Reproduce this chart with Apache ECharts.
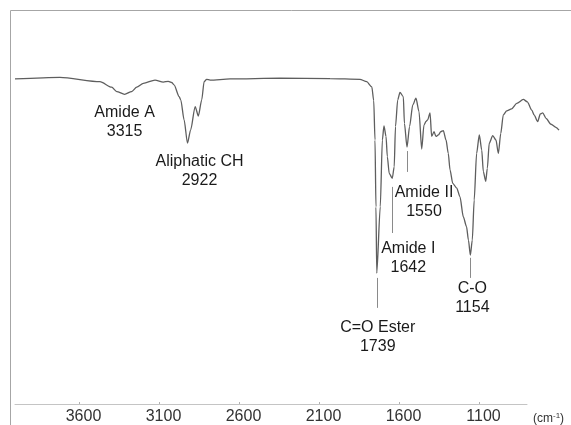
<!DOCTYPE html>
<html>
<head>
<meta charset="utf-8">
<script src="https://cdn.jsdelivr.net/npm/echarts@6/dist/echarts.min.js"></script>
<style>
  html, body { margin: 0; padding: 0; background: #fff; }
  #chart { width: 571px; height: 425px; }
</style>
</head>
<body>
<div id="chart"></div>
<script>
// wavenumber (cm-1) and transmittance
const wavenumbers = [
  4000, 3719, 3469, 3396, 3364, 3315, 3271, 3239, 3198, 3125, 3073, 3042, 3021, 3006,
  2974, 2964, 2943, 2922, 2902, 2874, 2854, 2833, 2818, 2802, 2781, 2656, 2344, 2031,
  1844, 1802, 1770, 1758, 1750, 1744, 1739, 1717, 1704, 1694, 1681, 1673, 1661, 1642,
  1630, 1622, 1608, 1594, 1573, 1566, 1550, 1534, 1514, 1494, 1475, 1458, 1444, 1431,
  1421, 1406, 1396, 1381, 1369, 1354, 1339, 1323, 1306, 1292, 1281, 1264, 1239, 1219,
  1198, 1178, 1166, 1154, 1142, 1130, 1115, 1098, 1083, 1073, 1058, 1048, 1036, 1014,
  994, 979, 964, 948, 927, 896, 864, 823, 798, 770, 756, 733, 717, 702, 681, 650, 619, 600
];
const transmittance = [
  82.5, 82.9, 81.8, 80.4, 79.3, 78.6, 79.3, 80.4, 81.4, 82.2, 81.7, 81.9, 81.6, 81.0,
  78.0, 77.2, 72.1, 66.2, 69.6, 75.5, 73.1, 77.2, 81.8, 82.4, 82.2, 82.5, 82.7, 82.6,
  82.4, 81.8, 80.5, 77.0, 67.0, 50.0, 33.2, 50.1, 67.0, 70.6, 67.9, 62.8, 58.5, 57.3,
  60.2, 70.4, 77.2, 79.1, 78.0, 71.2, 65.2, 70.4, 75.9, 77.6, 74.2, 64.7, 70.8, 71.7,
  72.1, 73.9, 67.9, 69.1, 67.9, 68.3, 69.1, 69.4, 67.0, 63.6, 59.4, 56.0, 54.8, 52.6,
  47.5, 45.0, 41.6, 37.8, 41.6, 51.8, 63.6, 68.3, 64.5, 59.0, 56.5, 59.8, 66.2, 68.1,
  67.0, 63.6, 68.7, 73.4, 74.4, 74.9, 76.3, 77.3, 76.7, 74.6, 73.4, 71.7, 73.6, 73.9,
  72.5, 71.0, 70.2, 69.5
];

const tickValues = [3600, 3100, 2600, 2100, 1600, 1100];

// peak annotations
const peakNames = ['Amide A', 'Aliphatic CH', 'C=O Ester', 'Amide I', 'Amide II', 'C-O'];
const peakWavenumbers = [3315, 2922, 1739, 1642, 1550, 1154];

// where each label / leader line sits (label y, x shift in px, leader line y range or null)
const peakLayout = [
  { labelY: 71.5, dx: 0, line: null },
  { labelY: 59.1, dx: 12, line: null },
  { labelY: 17.0, dx: 1, line: [32.0, 24.4] },
  { labelY: 37.0, dx: 16, line: [55.1, 43.4] },
  { labelY: 51.2, dx: 17, line: [64.2, 58.9] },
  { labelY: 26.8, dx: 2, line: [37.1, 32.0] }
];

const spectrum = wavenumbers.map((w, i) => [w, transmittance[i]]);

const markPoints = peakNames.map((name, i) => ({
  name: name,
  value: peakWavenumbers[i],
  coord: [peakWavenumbers[i], peakLayout[i].labelY],
  label: { offset: [peakLayout[i].dx, 0] }
}));

const markLines = [];
peakLayout.forEach((p, i) => {
  if (p.line) {
    markLines.push([
      { coord: [peakWavenumbers[i], p.line[0]] },
      { coord: [peakWavenumbers[i], p.line[1]] }
    ]);
  }
});

const chart = echarts.init(document.getElementById('chart'));
chart.setOption({
  animation: false,
  backgroundColor: '#fff',
  textStyle: { fontFamily: '"Liberation Sans", Arial, sans-serif' },
  // grid 0 holds the spectrum (600-4000), grid 1 the visible axis (800-4000)
  grid: [
    { left: 15, width: 544, top: 10, bottom: 21, outerBoundsMode: 'none' },
    { left: 15, width: 512, top: 10, bottom: 21, outerBoundsMode: 'none' }
  ],
  graphic: [{
    type: 'rect',
    shape: { x: 10.5, y: 10.5, width: 600, height: 500 },
    style: { fill: 'none', stroke: '#a6a6a6', lineWidth: 1 },
    silent: true
  }],
  xAxis: [{
    type: 'value',
    gridIndex: 0,
    inverse: true,
    min: 600,
    max: 4000,
    show: false
  }, {
    type: 'value',
    gridIndex: 1,
    inverse: true,
    min: 800,
    max: 4000,
    splitLine: { show: false },
    axisLine: { lineStyle: { color: '#c4c4c4', width: 1 } },
    axisTick: { show: true, inside: true, length: 2, lineStyle: { color: '#b0b0b0' }, customValues: tickValues },
    axisLabel: {
      customValues: tickValues,
      formatter: v => String(v),
      margin: 5,
      fontSize: 16,
      color: '#333',
      padding: [0, 0, 0, 9]
    },
    name: '{a|(cm}{b|-1}{a|)}',
    nameLocation: 'start',
    nameGap: 6,
    nameTextStyle: {
      align: 'left',
      verticalAlign: 'top',
      padding: [8, 0, 0, 0],
      rich: {
        a: { fontSize: 12, color: '#333' },
        b: { fontSize: 8, color: '#333', padding: [0, 0, 6, 0] }
      }
    }
  }],
  yAxis: [
    { type: 'value', gridIndex: 0, min: 0, max: 100, show: false },
    { type: 'value', gridIndex: 1, min: 0, max: 100, show: false }
  ],
  series: [{
    type: 'line',
    xAxisIndex: 0,
    yAxisIndex: 0,
    data: spectrum,
    showSymbol: false,
    smooth: 0.25,
    smoothMonotone: 'x',
    lineStyle: { color: '#5e5e5e', width: 1.3 },
    markLine: {
      silent: true,
      symbol: ['none', 'none'],
      label: { show: false },
      lineStyle: { color: '#8a8a8a', width: 1, type: 'solid' },
      data: markLines
    },
    markPoint: {
      silent: true,
      symbolSize: 0,
      label: {
        show: true,
        position: 'inside',
        formatter: '{b}\n{c}',
        fontSize: 16,
        lineHeight: 19,
        color: '#1a1a1a',
        align: 'center'
      },
      data: markPoints
    }
  }]
});
</script>
</body>
</html>
